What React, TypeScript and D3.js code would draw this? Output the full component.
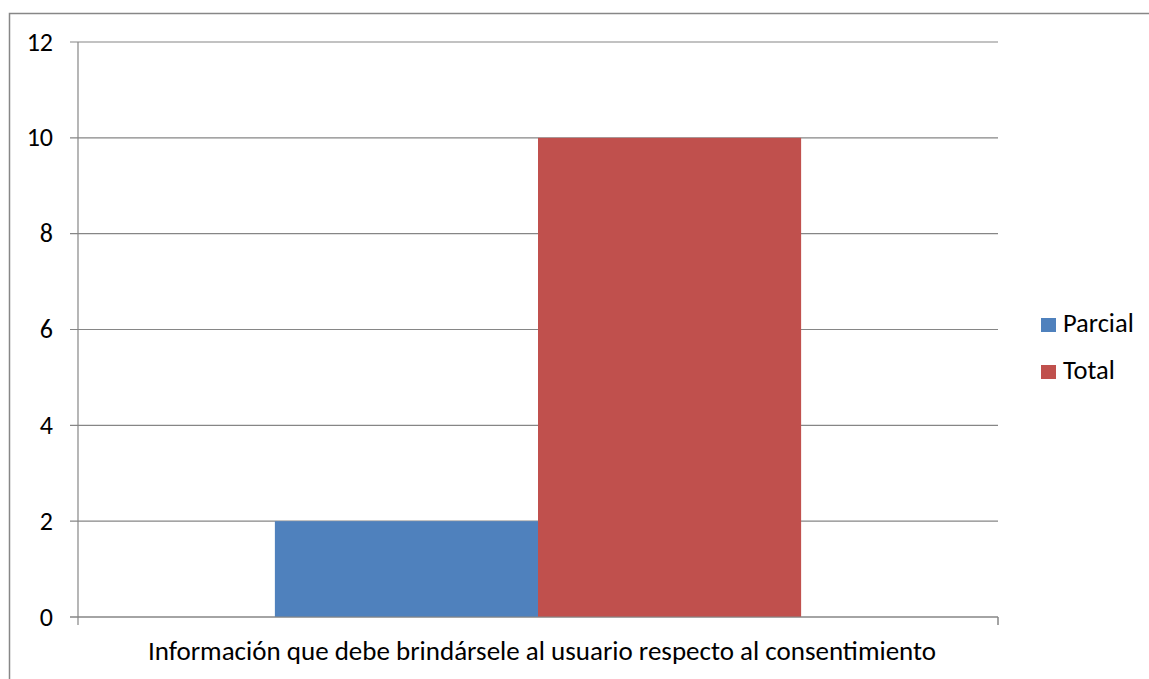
import React from "react";
import * as d3 from "d3";

const categories = ["Información que debe brindársele al usuario respecto al consentimiento"];
const seriesNames = ["Parcial", "Total"];
const seriesColors = ["#4F81BD", "#C0504D"];
const parcialValues = [2];
const totalValues = [10];
const yTicks = [0, 2, 4, 6, 8, 10, 12];

const W = 1149;
const H = 679;
const FONT = "Carlito, Calibri, 'Open Sans', 'Noto Sans', sans-serif";

export default function App() {
  const margin = { left: 78, right: 151, top: 42, bottom: 62 };
  const x = d3
    .scaleBand<string>()
    .domain(categories)
    .range([margin.left, W - margin.right])
    .paddingInner(0)
    .paddingOuter(0);
  const y = d3.scaleLinear().domain([0, 12]).range([H - margin.bottom, margin.top]);

  const cat = categories[0];
  const bandStart = x(cat)!;
  const bw = x.bandwidth();
  const gapFrac = 0.214;
  const groupStart = bandStart + bw * gapFrac;
  const groupWidth = bw * (1 - 2 * gapFrac);
  const xs = d3.scaleBand<string>().domain(seriesNames).range([groupStart, groupStart + groupWidth]).padding(0);
  const values = [parcialValues[0], totalValues[0]];

  const grid = "#868686";

  return (
    <svg width={W} height={H} style={{ position: "absolute", left: 0, top: 0, background: "#fff" }}>
      <rect x={9.5} y={13.5} width={W + 20} height={H + 20} fill="white" stroke="#878787" strokeWidth={1.5} />
      {yTicks.map((t) => (
        <g key={t}>
          <line x1={margin.left - 8} x2={W - margin.right} y1={y(t)} y2={y(t)} stroke={grid} strokeWidth={1.2} />
          <text x={53} y={y(t) + 8.5} textAnchor="end" fontFamily={FONT} fontSize={26} fill="#000">
            {t}
          </text>
        </g>
      ))}
      {seriesNames.map((s, i) => (
        <rect key={s} x={xs(s)!} y={y(values[i])} width={xs.bandwidth()} height={y(0) - y(values[i])} fill={seriesColors[i]} />
      ))}
      <line x1={margin.left} x2={margin.left} y1={y(12)} y2={y(0) + 8} stroke={grid} strokeWidth={1.2} />
      <line x1={margin.left - 8} x2={W - margin.right} y1={y(0)} y2={y(0)} stroke={grid} strokeWidth={1.2} />
      <line x1={W - margin.right} x2={W - margin.right} y1={y(0)} y2={y(0) + 8} stroke={grid} strokeWidth={1.5} />
      <text x={bandStart + bw / 2 + 4} y={660} textAnchor="middle" fontFamily={FONT} fontSize={27} fill="#000">
        {cat}
      </text>
      {seriesNames.map((s, i) => (
        <g key={s} transform={`translate(1041, ${318 + i * 47})`}>
          <rect x={0} y={0} width={15} height={14} fill={seriesColors[i]} />
          <text x={22} y={14} fontFamily={FONT} fontSize={26.5} fill="#000">
            {s}
          </text>
        </g>
      ))}
    </svg>
  );
}
